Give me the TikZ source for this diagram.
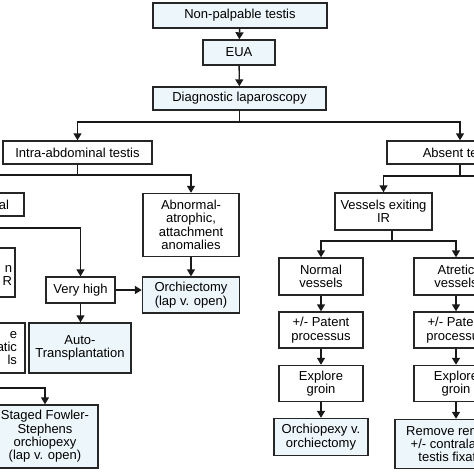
\documentclass[tikz,border=0pt]{standalone}
\usepackage{fontspec}
\setmainfont{Liberation Sans}
\usetikzlibrary{arrows.meta,positioning}
\definecolor{paleblue}{HTML}{EDF6FA}

\begin{document}
\begin{tikzpicture}[x=1pt,y=-1pt,>={Triangle[length=7pt,width=8pt]},node distance=53.5pt,on grid,
    box/.style={draw=black!85,line width=1.4pt,fill=white,align=center,inner sep=0pt,font=\fontsize{13}{13.4}\selectfont},
    leaf/.style={box,fill=paleblue},
    link/.style={line width=1.4pt,draw=black!90}]
  \useasboundingbox (0,0) rectangle (474,474);
  \clip (0,0) rectangle (474,474);

  % top of the tree
  \node[leaf,minimum width=174pt,minimum height=25pt] (npt)  at (240,15.5)   {Non-palpable testis};
  \node[leaf,minimum width=72pt,minimum height=25pt]  (eua)  at (239,52.5)   {EUA};
  \node[leaf,minimum width=173pt,minimum height=23pt] (diag) at (239.5,98.5) {Diagnostic laparoscopy};
  \node[box,minimum width=149pt,minimum height=23pt]  (intra)  at (77.5,152.5) {Intra-abdominal testis};
  \node[box,minimum width=146pt,minimum height=23pt]  (absent) at (460,152.5)  {Absent testis};

  % intra-abdominal side
  \node[box,minimum width=80pt,minimum height=23pt,text width=50pt,align=right] (cutA) at (-16,204.5) {al};
  \node[box,minimum width=80pt,minimum height=49pt,text width=74pt,align=right] (cutB) at (-25,272.5) {\mbox{}\\n\\R\hspace*{3pt}};
  \node[box,minimum width=80pt,minimum height=50pt,text width=64pt,align=right] (cutC) at (-15,348) {e\hspace*{4pt}\\atic\\ls\hspace*{6pt}};
  \node[box,minimum width=96pt,minimum height=63pt]   (abn)    at (191,225)   {Abnormal-\\atrophic,\\attachment\\anomalies};
  \node[leaf,minimum width=97pt,minimum height=36pt]  (orch)   at (191,295)   {Orchiectomy\\(lap v. open)};
  \node[box,minimum width=69pt,minimum height=26pt]   (vhigh)  at (80.5,290)  {Very high};
  \node[leaf,minimum width=102pt,minimum height=50pt] (auto)   at (80,348)    {Auto-\\Transplantation};
  \node[leaf,minimum width=106pt,minimum height=63pt] (staged) at (45,436.5)  {Staged Fowler-\\Stephens\\orchiopexy\\(lap v. open)};

  % absent side
  \node[box,minimum width=97pt,minimum height=37pt]   (vessels) at (383.5,211.5) {Vessels exiting\\IR};
  \node[box,minimum width=84pt,minimum height=37pt]   (normal)  at (321,276.5)   {Normal\\vessels};
  \node[box,minimum width=84pt,minimum height=37pt]   (atretic) at (456,276.5)   {Atretic\\vessels};
  \node[box,minimum width=84pt,minimum height=36pt]   (patentL)  [below=of normal]   {+/- Patent\\processus};
  \node[box,minimum width=84pt,minimum height=36pt]   (exploreL) [below=of patentL]  {Explore\\groin};
  \node[leaf,minimum width=94pt,minimum height=37pt]  (opexy)    [below=of exploreL] {Orchiopexy v.\\orchiectomy};
  \node[box,minimum width=84pt,minimum height=36pt]   (patentR)  [below=of atretic]  {+/- Patent\\processus};
  \node[box,minimum width=84pt,minimum height=36pt]   (exploreR) [below=of patentR]  {Explore\\groin};
  \node[leaf,minimum width=122pt,minimum height=49pt] (remove)   at (456,444)        {Remove remnant\\+/- contralateral\\testis fixation};

  % junctions
  \coordinate (j1) at (239.5,122);
  \coordinate (j2) at (77.5,175);
  \coordinate (j3) at (-16,228);
  \coordinate (j4) at (-15,388);
  \coordinate (j5) at (460,176);
  \coordinate (j6) at (392,241);
  \coordinate (absR) at (490,176);

  \draw[link,->] (npt) -- (eua);
  \draw[link,->] (eua) -- (diag);
  \draw[link] (diag) -- (j1);
  \draw[link,->] (j1) -| (intra);
  \draw[link,->] (j1) -| (absent);

  \draw[link] (intra) -- (j2);
  \draw[link,->] (j2) -| (abn);
  \draw[link,->] (j2) -| (cutA);
  \draw[link,->] (abn) -- (orch);
  \draw[link] (cutA) -- (j3);
  \draw[link,->] (j3) -| (vhigh);
  \draw[link,->] (j3) -| (cutB);
  \draw[link,->] (vhigh.east) -- (vhigh.east -| orch.west);
  \draw[link,->] (vhigh.south) -- (vhigh.south |- auto.north);
  \draw[link] (cutC) -- (j4);
  \draw[link,->] (j4) -| (staged);

  \draw[link] (absent) -- (j5);
  \draw[link,->] (j5) -| (vessels);
  \draw[link] (j5) -- (absR);
  \draw[link] (vessels.south -| j6) -- (j6);
  \draw[link,->] (j6) -| (normal);
  \draw[link,->] (j6) -| (atretic);
  \draw[link,->] (normal) -- (patentL);
  \draw[link,->] (patentL) -- (exploreL);
  \draw[link,->] (exploreL) -- (opexy);
  \draw[link,->] (atretic) -- (patentR);
  \draw[link,->] (patentR) -- (exploreR);
  \draw[link,->] (exploreR) -- (remove);
\end{tikzpicture}
\end{document}
